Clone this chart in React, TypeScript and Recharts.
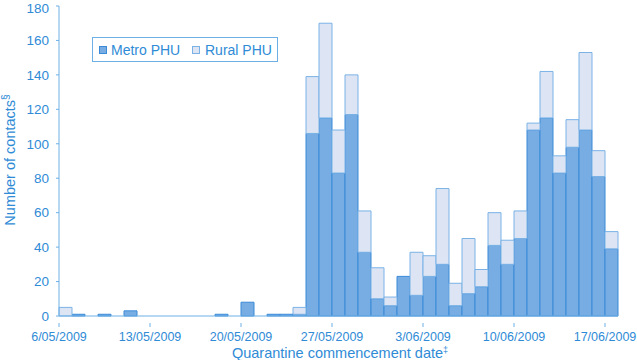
import { BarChart, Bar, XAxis, YAxis, Legend } from 'recharts';

const days = [
  '6/05/2009', '7/05/2009', '8/05/2009', '9/05/2009', '10/05/2009', '11/05/2009', '12/05/2009',
  '13/05/2009', '14/05/2009', '15/05/2009', '16/05/2009', '17/05/2009', '18/05/2009', '19/05/2009',
  '20/05/2009', '21/05/2009', '22/05/2009', '23/05/2009', '24/05/2009', '25/05/2009', '26/05/2009',
  '27/05/2009', '28/05/2009', '29/05/2009', '30/05/2009', '31/05/2009', '1/06/2009', '2/06/2009',
  '3/06/2009', '4/06/2009', '5/06/2009', '6/06/2009', '7/06/2009', '8/06/2009', '9/06/2009',
  '10/06/2009', '11/06/2009', '12/06/2009', '13/06/2009', '14/06/2009', '15/06/2009', '16/06/2009',
  '17/06/2009',
];

const metro = [
  0, 1, 0, 1, 0, 3, 0, 0, 0, 0,
  0, 0, 1, 0, 8, 0, 1, 1, 1, 106,
  115, 83, 117, 37, 10, 6, 23, 12, 23, 30,
  6, 13, 17, 41, 30, 45, 108, 115, 83, 98,
  108, 81, 39,
];

const rural = [
  5, 0, 0, 0, 0, 0, 0, 0, 0, 0,
  0, 0, 0, 0, 0, 0, 0, 0, 4, 33,
  55, 25, 23, 24, 18, 5, 0, 25, 12, 44,
  13, 32, 10, 19, 14, 16, 4, 27, 10, 16,
  45, 15, 10,
];

const xTicks = ['6/05/2009', '13/05/2009', '20/05/2009', '27/05/2009', '3/06/2009', '10/06/2009', '17/06/2009'];
const yTicks = [0, 20, 40, 60, 80, 100, 120, 140, 160, 180];

const data = days.map((d, i) => ({ date: d, metro: metro[i], rural: rural[i] }));

const TEXT = '#2f8bd6';
const AXIS = '#6eb0e6';
const FONT = '"Liberation Sans", Arial, sans-serif';
const HALF_BAND = 6.5;

// ticks sit on the left edge of each day's bar, not its centre
const DateTick = (props: any) => {
  const { x, y, payload } = props;
  const tx = x - HALF_BAND;
  return (
    <g>
      <line x1={tx} x2={tx} y1={y - 1} y2={y + 3} stroke={AXIS} />
      <text x={tx} y={y + 8} dy="0.71em" textAnchor="middle" fill={TEXT} fontFamily={FONT} fontSize={12.5}>
        {payload.value}
      </text>
    </g>
  );
};

const renderLegend = () => (
  <div style={{
    border: `1px solid ${AXIS}`, width: 184, height: 23, boxSizing: 'content-box',
    fontFamily: FONT, fontSize: 14, color: TEXT, position: 'relative',
  }}>
    <span style={{ position: 'absolute', left: 6, top: 8, width: 6, height: 6, background: '#78ade3', border: '1px solid #3a8ad8' }} />
    <span style={{ position: 'absolute', left: 18, top: 4, lineHeight: '16px' }}>Metro PHU</span>
    <span style={{ position: 'absolute', left: 99, top: 8, width: 6, height: 6, background: '#dde5f4', border: '1px solid #7ab2e6' }} />
    <span style={{ position: 'absolute', left: 112, top: 4, lineHeight: '16px' }}>Rural PHU</span>
  </div>
);

const yLabel = () => (
  <text transform="translate(15,160) rotate(-90)" textAnchor="middle" fill={TEXT}
    fontFamily={FONT} fontSize={14.5}>
    Number of contacts<tspan dy={-6} fontSize={10}>§</tspan>
  </text>
);

const xLabel = () => (
  <text x={340} y={358} textAnchor="middle" fill={TEXT} fontFamily={FONT} fontSize={14.5}>
    Quarantine commencement date<tspan dy={-5} fontSize={9}>‡</tspan>
  </text>
);

export default function App() {
  return (
    <div style={{ width: 637, height: 360, background: '#fff' }}>
      <style>{'body{margin:0}'}</style>
      <BarChart width={637} height={360} data={data} barCategoryGap={0}
        margin={{ top: 6, right: 19, bottom: 0, left: 0 }}>
        <XAxis dataKey="date" ticks={xTicks} interval={0} height={44} tickLine={false}
          stroke={AXIS} tick={<DateTick />} label={{ content: xLabel }} />
        <YAxis domain={[0, 180]} ticks={yTicks} width={59} tickSize={3} tickMargin={7}
          stroke={AXIS} tick={{ fill: TEXT, fontSize: 13.5, fontFamily: FONT }}
          label={{ content: yLabel }} />
        <Legend content={renderLegend} layout="horizontal" verticalAlign="middle" align="center"
          wrapperStyle={{ left: 92, top: 37, width: 186, height: 25 }} />
        <Bar dataKey="metro" stackId="a" name="Metro PHU" fill="#78ade3"
          stroke="#3a8ad8" strokeWidth={1} isAnimationActive={false} />
        <Bar dataKey="rural" stackId="a" name="Rural PHU" fill="#dde5f4"
          stroke="#7ab2e6" strokeWidth={1} isAnimationActive={false} />
      </BarChart>
    </div>
  );
}
